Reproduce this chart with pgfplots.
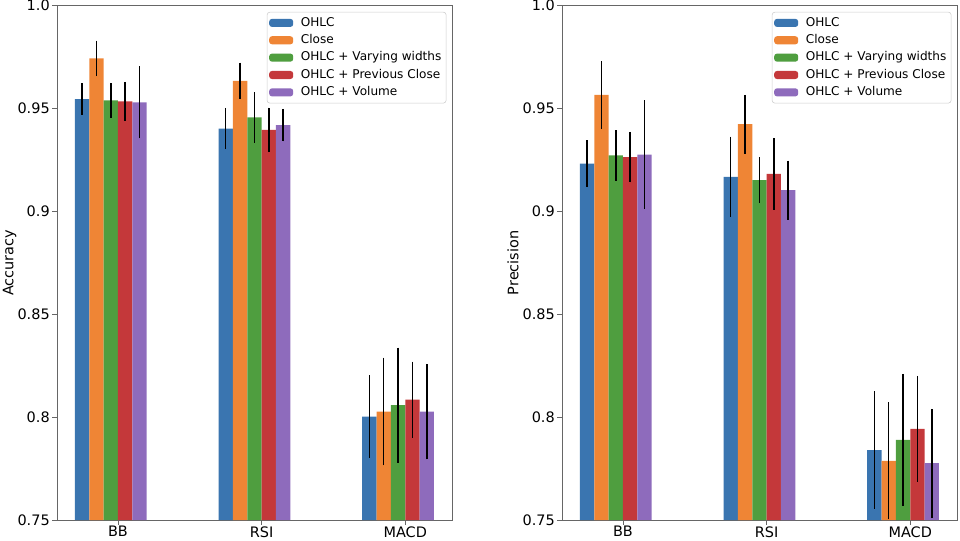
\documentclass[border=0pt]{standalone}
\usepackage{fontspec}
\setmainfont{DejaVu Sans}
\usepackage{pgfplots}
\pgfplotsset{compat=1.18}

\definecolor{cblue}{HTML}{3A75B0}
\definecolor{corange}{HTML}{EF8535}
\definecolor{cgreen}{HTML}{4F9E3F}
\definecolor{cred}{HTML}{C4383A}
\definecolor{cpurple}{HTML}{8E6BBC}

% bars sit at category - 0.25 ... category + 0.15, ticks at 0, 1, 2
\pgfplotsset{
  panel/.style={
    scale only axis,
    anchor=south west,
    width=284.4pt, height=370.3pt,
    ymin=0.75, ymax=1.0,
    xmin=-0.425, xmax=2.325,
    xtick={0,1,2},
    xticklabels={BB,RSI,MACD},
    ytick={0.75,0.8,0.85,0.9,0.95,1.0},
    yticklabels={0.75,0.8,0.85,0.9,0.95,1.0},
    tick align=outside,
    major tick length=3.4pt,
    xtick pos=bottom, ytick pos=left,
    axis line style={black!60, line width=0.6pt},
    every tick/.style={black!60, line width=0.6pt},
    tick label style={font=\fontsize{10.4}{12}\selectfont},
    xticklabel style={inner sep=0pt, yshift=-1pt},
    yticklabel style={inner sep=1.6pt},
    label style={font=\fontsize{10.4}{12}\selectfont},
    ylabel style={at={(axis description cs:0,0.5)}, anchor=base, yshift=31.4pt},
    /pgf/number format/assume math mode=true,
    clip=false,
    legend cell align=left,
    legend style={at={(0.986,0.988)}, anchor=north east,
      draw=black!20, rounded corners=2pt, fill=white,
      font=\fontsize{8.7}{10}\selectfont, inner sep=1.5pt,
      row sep=0pt,
      nodes={inner sep=1.9pt, text height=6.6pt, text depth=2.1pt},
      /tikz/every odd column/.style={column sep=3.6pt}},
    legend image code/.code={\fill[##1] (0pt,-2.9pt) rectangle (17.3pt,2.9pt);},
  },
  sbar/.style={ybar, bar width=0.1, bar shift=0, draw=none, fill=#1,
    error bars/y dir=both, error bars/y explicit, error bars/error mark=none,
    error bars/error bar style={black, line width=1.1pt}},
}

\begin{document}
\begin{tikzpicture}
\path[use as bounding box] (0,0) rectangle (691.2pt,388.8pt);

\begin{axis}[panel, at={(41.0pt,14.4pt)}, ylabel={Accuracy}]
\addplot[sbar=cblue] coordinates {
  (-0.25,0.9546) +- (0,0.0077)
  (0.75,0.9403) +- (0,0.0100)
  (1.75,0.8003) +- (0,0.0200)
};
\addplot[sbar=corange] coordinates {
  (-0.15,0.9744) +- (0,0.0086)
  (0.85,0.9635) +- (0,0.0088)
  (1.85,0.8027) +- (0,0.0262)
};
\addplot[sbar=cgreen] coordinates {
  (-0.05,0.9540) +- (0,0.0085)
  (0.95,0.9457) +- (0,0.0122)
  (1.95,0.8058) +- (0,0.0280)
};
\addplot[sbar=cred] coordinates {
  (0.05,0.9535) +- (0,0.0095)
  (1.05,0.9396) +- (0,0.0108)
  (2.05,0.8085) +- (0,0.0185)
};
\addplot[sbar=cpurple] coordinates {
  (0.15,0.9530) +- (0,0.0175)
  (1.15,0.9419) +- (0,0.0079)
  (2.15,0.8027) +- (0,0.0232)
};
\legend{OHLC, Close, OHLC + Varying widths, OHLC + Previous Close, OHLC + Volume}
\end{axis}

\begin{axis}[panel, at={(404.6pt,14.4pt)}, ylabel={Precision}]
\addplot[sbar=cblue] coordinates {
  (-0.25,0.9232) +- (0,0.0114)
  (0.75,0.9168) +- (0,0.0196)
  (1.75,0.7840) +- (0,0.0285)
};
\addplot[sbar=corange] coordinates {
  (-0.15,0.9567) +- (0,0.0164)
  (0.85,0.9424) +- (0,0.0143)
  (1.85,0.7788) +- (0,0.0285)
};
\addplot[sbar=cgreen] coordinates {
  (-0.05,0.9272) +- (0,0.0122)
  (0.95,0.9152) +- (0,0.0112)
  (1.95,0.7890) +- (0,0.0320)
};
\addplot[sbar=cred] coordinates {
  (0.05,0.9264) +- (0,0.0123)
  (1.05,0.9183) +- (0,0.0175)
  (2.05,0.7943) +- (0,0.0258)
};
\addplot[sbar=cpurple] coordinates {
  (0.15,0.9276) +- (0,0.0265)
  (1.15,0.9103) +- (0,0.0144)
  (2.15,0.7776) +- (0,0.0264)
};
\legend{OHLC, Close, OHLC + Varying widths, OHLC + Previous Close, OHLC + Volume}
\end{axis}
\end{tikzpicture}
\end{document}
